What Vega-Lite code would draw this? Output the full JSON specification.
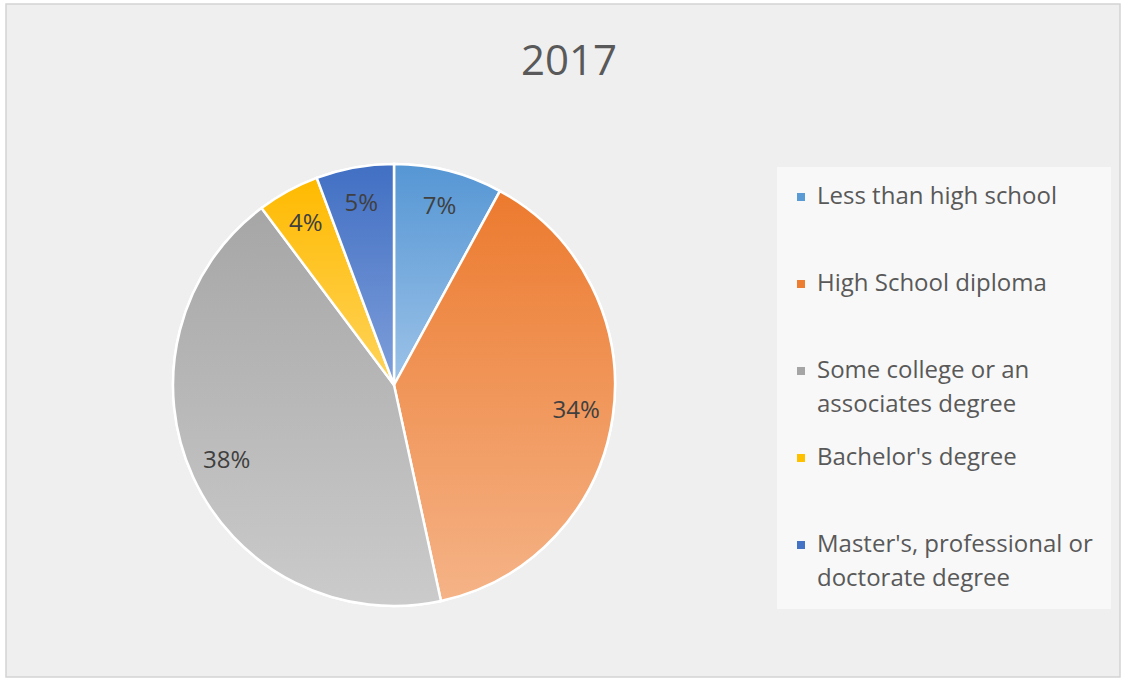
{
  "$schema": "https://vega.github.io/schema/vega-lite/v6.json",
  "width": 1114,
  "height": 673,
  "autosize": "none",
  "padding": {"left": 6, "top": 4, "right": 4, "bottom": 2},
  "background": "#ffffff",
  "title": {
    "text": "2017",
    "font": "Open Sans",
    "fontSize": 42,
    "fontWeight": "normal",
    "color": "#595959",
    "anchor": "middle",
    "baseline": "alphabetic",
    "offset": 0,
    "dy": 113,
    "dx": 6
  },
  "data": {
    "values": [
      {"category": "Less than high school", "share": 0.07, "order": 1},
      {"category": "High School diploma", "share": 0.34, "order": 2},
      {"category": "Some college or an associates degree", "share": 0.38, "order": 3},
      {"category": "Bachelor's degree", "share": 0.04, "order": 4},
      {"category": "Master's, professional or doctorate degree", "share": 0.05, "order": 5}
    ]
  },
  "layer": [
    {
      "mark": {"type": "arc", "outerRadius": 221, "stroke": "#ffffff", "strokeWidth": 2.5},
      "encoding": {
        "x": {"value": 388},
        "y": {"value": 381},
        "theta": {"field": "share", "type": "quantitative", "stack": true},
        "order": {"field": "order", "type": "quantitative"},
        "color": {
          "field": "category",
          "type": "nominal",
          "sort": null,
          "scale": {
            "domain": ["Less than high school", "High School diploma", "Some college or an associates degree", "Bachelor's degree", "Master's, professional or doctorate degree"],
            "range": ["#5b9bd5", "#ed7d31", "#a5a5a5", "#ffc000", "#4472c4"]
          },
          "legend": {
            "orient": "none",
            "legendX": 771,
            "legendY": 163,
            "title": null,
            "symbolType": "square",
            "symbolSize": 64,
            "symbolStrokeWidth": 0,
            "symbolOffset": -6,
            "labelFont": "Open Sans",
            "labelFontSize": 24,
            "labelColor": "#595959",
            "labelOffset": 4,
            "labelLimit": 400,
            "padding": 18,
            "fillColor": "#f8f8f8",
            "rowPadding": 29,
            "gridAlign": "all",
            "labelExpr": "datum.label === 'Some college or an associates degree' ? ['Some college or an', 'associates degree'] : datum.label === \"Master's, professional or doctorate degree\" ? [\"Master's, professional or\", 'doctorate degree'] : datum.label"
          }
        }
      }
    },
    {
      "mark": {"type": "arc", "outerRadius": 221, "stroke": "#ffffff", "strokeWidth": 2.5},
      "encoding": {
        "x": {"value": 388},
        "y": {"value": 381},
        "theta": {"field": "share", "type": "quantitative", "stack": true},
        "order": {"field": "order", "type": "quantitative"},
        "detail": {"field": "category", "type": "nominal"},
        "fill": {
          "condition": [
            {"test": "datum.category === 'Less than high school'", "value": {"gradient": "linear", "x1": 0, "y1": 0, "x2": 0, "y2": 1, "stops": [{"offset": 0, "color": "#5596d4"}, {"offset": 1, "color": "#9dc3e8"}]}},
            {"test": "datum.category === 'High School diploma'", "value": {"gradient": "linear", "x1": 0, "y1": 0, "x2": 0, "y2": 1, "stops": [{"offset": 0, "color": "#ec7a2e"}, {"offset": 1, "color": "#f5b387"}]}},
            {"test": "datum.category === 'Some college or an associates degree'", "value": {"gradient": "linear", "x1": 0, "y1": 0, "x2": 0, "y2": 1, "stops": [{"offset": 0, "color": "#a6a6a6"}, {"offset": 1, "color": "#cbcbcb"}]}},
            {"test": "datum.category === \"Bachelor's degree\"", "value": {"gradient": "linear", "x1": 0, "y1": 0, "x2": 0, "y2": 1, "stops": [{"offset": 0, "color": "#ffba00"}, {"offset": 1, "color": "#ffd45c"}]}}
          ],
          "value": {"gradient": "linear", "x1": 0, "y1": 0, "x2": 0, "y2": 1, "stops": [{"offset": 0, "color": "#416fc3"}, {"offset": 1, "color": "#7f9fda"}]}
        }
      }
    },
    {
      "mark": {"type": "text", "radius": 184, "font": "Open Sans", "fontSize": 24, "color": "#404040", "align": "center", "baseline": "middle"},
      "encoding": {
        "x": {"value": 388},
        "y": {"value": 381},
        "theta": {"field": "share", "type": "quantitative", "stack": true},
        "order": {"field": "order", "type": "quantitative"},
        "detail": {"field": "category", "type": "nominal"},
        "text": {"field": "share", "type": "quantitative", "format": ".0%"}
      }
    }
  ],
  "config": {
    "view": {"fill": "#efefef", "stroke": "#d4d4d4", "strokeWidth": 1.5},
    "style": {"guide-label": {"lineHeight": 34}}
  }
}
